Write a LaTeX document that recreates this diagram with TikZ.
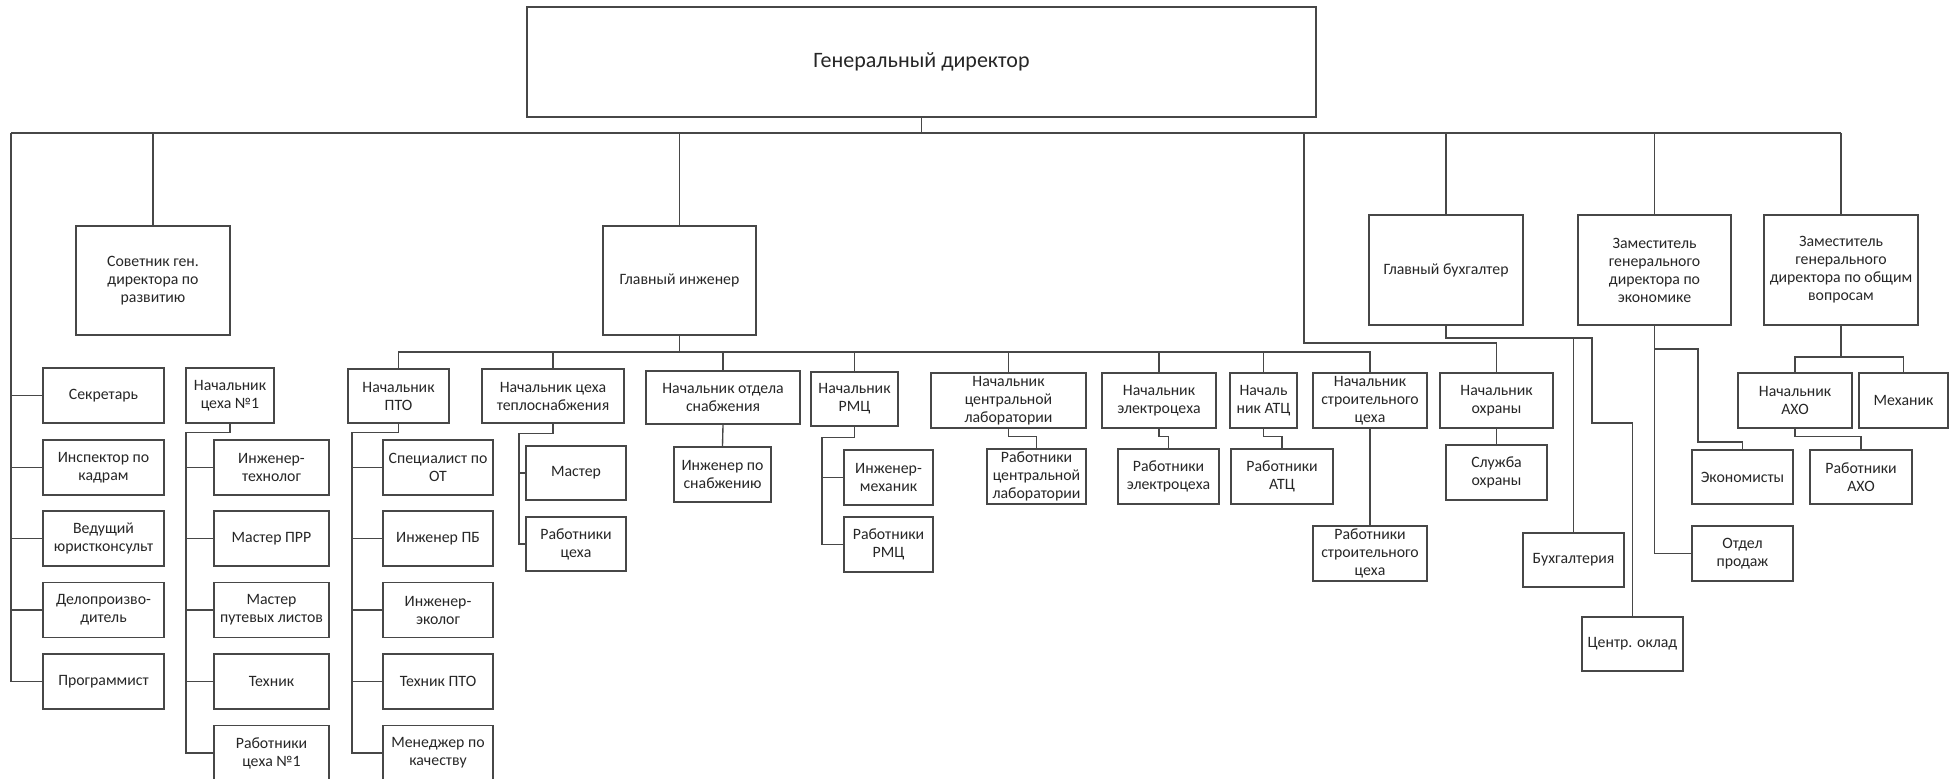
\documentclass[tikz,border=0pt]{standalone}
\usepackage{fontspec}
\setmainfont{Carlito}
% box: name, centre x, centre y, width, height, text
\newcommand{\bx}[6]{\node[box, minimum width=#4pt, minimum height=#5pt] (#1) at (#2,#3) {#6};}
\begin{document}
\begin{tikzpicture}[x=1pt,y=-1pt,
  box/.style={draw=black!72, line width=1.35pt, align=center, inner sep=0.5pt,
              text=black!85, font=\fontsize{15.8}{18}\selectfont},
  link/.style={draw=black!72, line width=1.35pt}]
\useasboundingbox (0,0) rectangle (1957,779);
\clip (0,0) rectangle (1957,779);

% ---- top level
\node[box, minimum width=789pt, minimum height=110pt, font=\fontsize{22}{26}\selectfont] (gd) at (921.5,62) {Генеральный директор};

% ---- second level
\bx{sov}{153}{280.5}{154}{109}{Советник ген.\\директора по\\развитию}
\bx{glinzh}{679.5}{280.5}{153}{109}{Главный инженер}
\bx{glbuh}{1446}{270}{154}{110}{Главный бухгалтер}
\bx{zamek}{1654.5}{270}{153}{110}{Заместитель\\генерального\\директора по\\экономике}
\bx{zamob}{1841}{270}{154}{110}{Заместитель\\генерального\\директора по общим\\вопросам}

% ---- staff column under the director
\bx{sekr}{103.5}{395.5}{121}{55}{Секретарь}
\bx{insp}{103.5}{467.5}{121}{55}{Инспектор по\\кадрам}
\bx{jur}{103.5}{538.5}{121}{55}{Ведущий\\юристконсульт}
\bx{delo}{103.5}{610}{121}{55}{Делопроизво-\\дитель}
\bx{prog}{103.5}{681.5}{121}{55}{Программист}

% ---- workshop No 1
\bx{nc1}{230}{395.5}{88}{55}{Начальник\\цеха №1}
\bx{itech}{271.5}{467.5}{115}{55}{Инженер-\\технолог}
\bx{mprr}{271.5}{538.5}{115}{55}{Мастер ПРР}
\bx{mpl}{271.5}{610}{115}{55}{Мастер\\путевых листов}
\bx{tech}{271.5}{681.5}{115}{55}{Техник}
\bx{rc1}{271.5}{753}{115}{55}{Работники\\цеха №1}

% ---- chief engineer's departments
\bx{npto}{398.5}{396}{101}{54}{Начальник\\ПТО}
\bx{spot}{438}{467.5}{110}{55}{Специалист по\\ОТ}
\bx{ipb}{438}{538.5}{110}{55}{Инженер ПБ}
\bx{ieco}{438}{610}{110}{55}{Инженер-\\эколог}
\bx{tpto}{438}{681.5}{110}{55}{Техник ПТО}
\bx{mkach}{438}{753}{110}{55}{Менеджер по\\качеству}

\bx{nteplo}{553}{396}{142}{54}{Начальник цеха\\теплоснабжения}
\bx{master}{576}{473}{100}{54}{Мастер}
\bx{rtc}{576}{544}{100}{54}{Работники\\цеха}

\bx{nsnab}{723}{397.5}{154}{53}{Начальник отдела\\снабжения}
\bx{isnab}{722.5}{474.5}{97}{55}{Инженер по\\снабжению}

\bx{nrmc}{854.5}{399}{87}{54}{Начальник\\РМЦ}
\bx{imeh}{888.5}{477.5}{89}{55}{Инженер-\\механик}
\bx{rrmc}{888.5}{544.5}{89}{55}{Работники\\РМЦ}

\bx{ncl}{1008.5}{400.5}{155}{55}{Начальник\\центральной\\лаборатории}
\bx{rcl}{1036.5}{476.5}{99}{55}{Работники\\центральной\\лаборатории}

\bx{nel}{1159}{400.5}{114}{55}{Начальник\\электроцеха}
\bx{rel}{1168.5}{476.5}{101}{55}{Работники\\электроцеха}

\bx{natc}{1263.5}{400.5}{67}{55}{Началь\\ник АТЦ}
\bx{ratc}{1282}{476.5}{102}{55}{Работники\\АТЦ}

\bx{nstr}{1370}{400.5}{114}{55}{Начальник\\строительного\\цеха}
\bx{rstr}{1370}{553.5}{114}{55}{Работники\\строительного\\цеха}

% ---- security
\bx{nohr}{1496.5}{400.5}{113}{55}{Начальник\\охраны}
\bx{sohr}{1496.5}{472.5}{101}{55}{Служба\\охраны}

% ---- accounting
\bx{bux}{1573.5}{560}{101}{54}{Бухгалтерия}
\bx{okl}{1632.5}{644}{101}{54}{Центр. оклад}

% ---- economics
\bx{ekon}{1742.5}{477}{101}{54}{Экономисты}
\bx{otd}{1742.5}{553.5}{101}{55}{Отдел\\продаж}

% ---- general affairs
\bx{naho}{1795}{400.5}{114}{55}{Начальник\\АХО}
\bx{meh}{1903.5}{400.5}{89}{55}{Механик}
\bx{raho}{1861}{477}{102}{54}{Работники\\АХО}

% ================= connectors
% main bus under the director
\coordinate (busL) at (11,133);
\path (zamob.north |- busL) coordinate (busR);
\draw[link] (busL) -- (busR);
\draw[link] (gd.south) -- (gd.south |- busL);
\foreach \n in {sov,glinzh,glbuh,zamek,zamob}
  \draw[link] (\n.north) -- (\n.north |- busL);

% staff column
\draw[link] (busL) |- (prog.west);
\foreach \n in {sekr,insp,jur,delo}
  \draw[link] (\n.west) -- (\n.west -| busL);

% security branch taken off the main bus
\coordinate (ohrTap) at (1304,133);
\coordinate (ohrBend) at (1304,343);
\draw[link] (ohrTap) -- (ohrBend) -| (nohr.north);
\draw[link] (nohr.south) -- (sohr.north);

% workshop No 1
\coordinate (c1x) at (186,0);
\draw[link] (nc1.south) -- ++(0,9) -| (rc1.west -| c1x) -- (rc1.west);
\foreach \n in {itech,mprr,mpl,tech}
  \draw[link] (\n.west) -- (\n.west -| c1x);

% chief engineer bus
\coordinate (ibus) at (679.5,352);
\draw[link] (glinzh.south) -- (ibus);
\draw[link] (npto.north) |- (ibus) -| (nstr.north);
\foreach \n in {nteplo,nsnab,nrmc,ncl,nel,natc}
  \draw[link] (\n.north) -- (\n.north |- ibus);

% PTO
\coordinate (ptox) at (352,0);
\draw[link] (npto.south) -- ++(0,9) -| (mkach.west -| ptox) -- (mkach.west);
\foreach \n in {spot,ipb,ieco,tpto}
  \draw[link] (\n.west) -- (\n.west -| ptox);

% heat supply workshop
\coordinate (tx) at (519,0);
\draw[link] (nteplo.south) -- ++(0,10) -| (rtc.west -| tx) -- (rtc.west);
\draw[link] (master.west) -- (master.west -| tx);

% supply
\draw[link] (nsnab.south) -- (isnab.north);

% RMC
\coordinate (rx) at (822,0);
\draw[link] (nrmc.south) -- ++(0,11) -| (rrmc.west -| rx) -- (rrmc.west);
\draw[link] (imeh.west) -- (imeh.west -| rx);

% laboratory, electrical shop, ATC
\draw[link] (ncl.south) -- ++(0,8) -| (rcl.north);
\draw[link] (nel.south) -- ++(0,8) -| (rel.north);
\draw[link] (natc.south) -- ++(0,8) -| (ratc.north);

% construction shop
\draw[link] (nstr.south) -- (rstr.north);

% accounting
\coordinate (buhR) at (1592,338);
\coordinate (oklBend) at (1592,423);
\draw[link] (glbuh.south) |- (buhR) -- (oklBend) -| (okl.north);
\draw[link] (bux.north) -- (bux.north |- buhR);

% economics
\coordinate (ekTap) at (1654.5,349);
\coordinate (ekBend) at (1698,442);
\draw[link] (zamek.south) |- (otd.west);
\draw[link] (ekTap) -| (ekBend) -| (ekon.north);

% general affairs
\coordinate (obBus) at (1841,357);
\draw[link] (zamob.south) -- (obBus);
\draw[link] (naho.north) |- (obBus) -| (meh.north);
\draw[link] (naho.south) -- ++(0,8) -| (raho.north);
\end{tikzpicture}
\end{document}
